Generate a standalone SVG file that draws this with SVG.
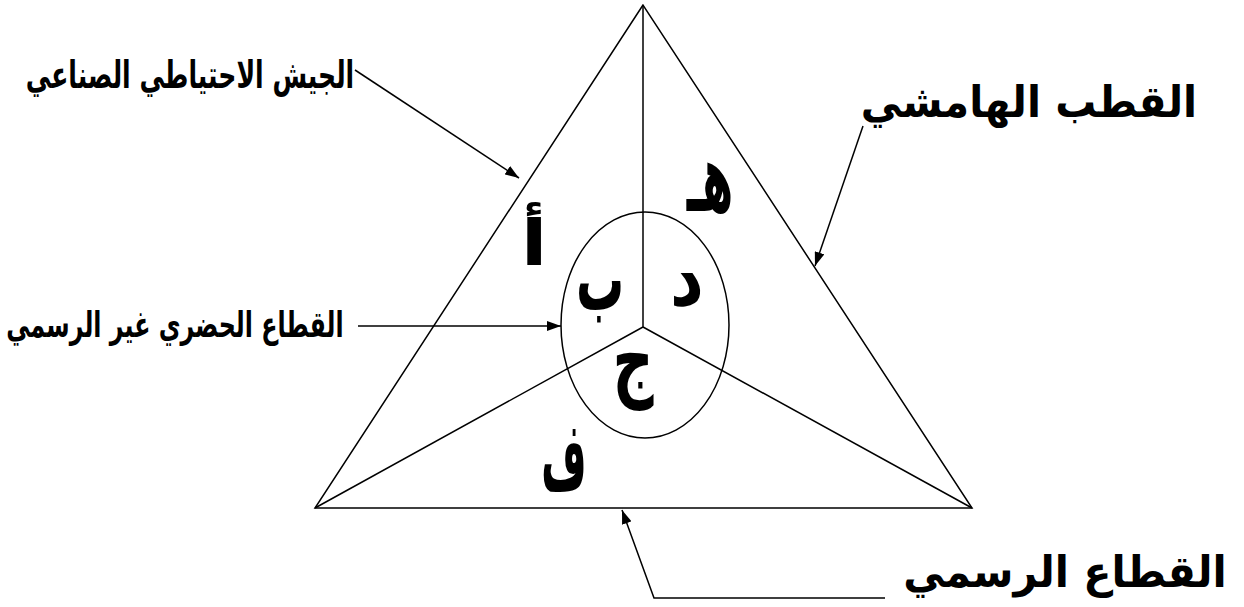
<svg xmlns="http://www.w3.org/2000/svg" width="1244" height="607" viewBox="0 0 1244 607">
<style>
.ln{fill:none;stroke:#000;stroke-width:1.5}
.lbl{font-family:"DejaVu Sans","Noto Sans",sans-serif;font-weight:bold;fill:#000;text-anchor:middle}
.let{font-family:"DejaVu Sans","Noto Sans",sans-serif;font-weight:bold;fill:#000;text-anchor:middle;font-size:60px}
</style>
<defs>
<marker id="ah" viewBox="0 0 14 10" refX="14" refY="5" markerWidth="14" markerHeight="10" markerUnits="userSpaceOnUse" orient="auto">
<path d="M0,0 L14,5 L0,10 z" fill="#000"/>
</marker>
</defs>
<rect width="1244" height="607" fill="#fff"/>
<g id="triangle">
<path class="ln" d="M643,5 L315,508 L972,508 Z"/>
<line class="ln" x1="643" y1="5" x2="643" y2="327"/>
<line class="ln" x1="643" y1="327" x2="315" y2="508"/>
<line class="ln" x1="643" y1="327" x2="972" y2="508"/>
</g>
<g id="circle">
<ellipse class="ln" cx="645" cy="325" rx="84" ry="113"/>
</g>
<g id="letters">
<text class="let" transform="translate(534,265) scale(1.3,1.05)">أ</text>
<text class="let" transform="translate(600,310) scale(0.8,1.45)">ب</text>
<text class="let" transform="translate(687,305) scale(1.1,1.3)">د</text>
<text class="let" transform="translate(710,211) scale(0.75,1.6)">هـ</text>
<text class="let" transform="translate(633,390) scale(0.95,1.45)">ج</text>
<text class="let" transform="translate(564,490) scale(0.65,1.6)">ف</text>
</g>
<g id="labels">
<text class="lbl" transform="translate(190,88) scale(0.66,1)" font-size="38">الجيش الاحتياطي الصناعي</text>
<text class="lbl" transform="translate(1029,117) scale(0.93,1)" font-size="44">القطب الهامشي</text>
<text class="lbl" transform="translate(175,337) scale(0.66,1)" font-size="36">القطاع الحضري غير الرسمي</text>
<text class="lbl" transform="translate(1065,587) scale(0.94,1)" font-size="44">القطاع الرسمي</text>
</g>
<g id="connectors">
<line class="ln" x1="355" y1="70" x2="519" y2="178" marker-end="url(#ah)"/>
<line class="ln" x1="863" y1="126" x2="815" y2="266" marker-end="url(#ah)"/>
<line class="ln" x1="358" y1="326" x2="561" y2="326" marker-end="url(#ah)"/>
<polyline class="ln" points="885,598 654,598 622,510" marker-end="url(#ah)"/>
</g>
</svg>
